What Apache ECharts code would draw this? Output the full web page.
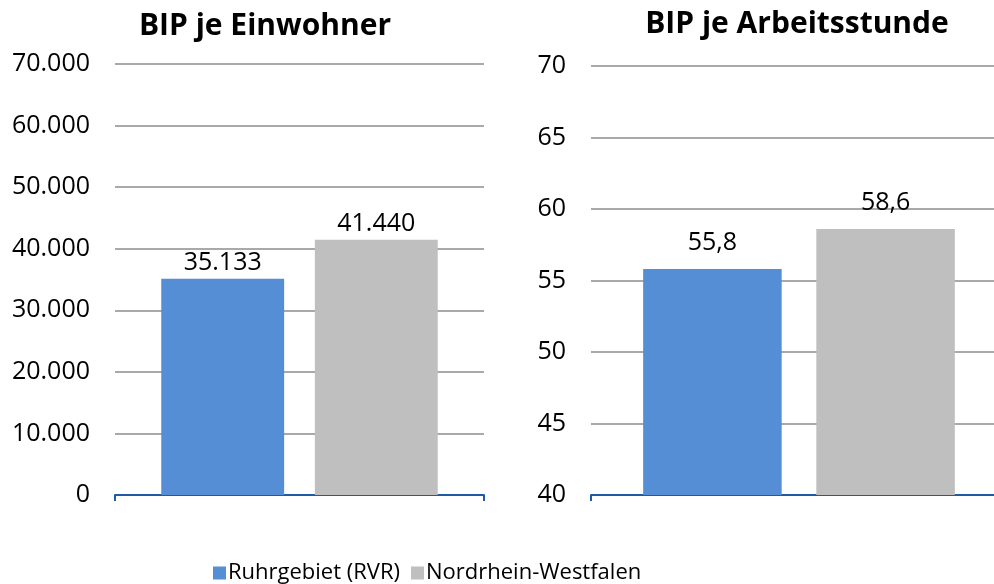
<!DOCTYPE html>
<html><head><meta charset="utf-8">
<script src="https://cdn.jsdelivr.net/npm/echarts@6/dist/echarts.min.js"></script>
<style>html,body{margin:0;padding:0;background:#fff}#c{width:994px;height:584px}</style>
</head><body><div id="c"></div>
<script>
const seriesNames = ["Ruhrgebiet (RVR)", "Nordrhein-Westfalen"];
const titles = ["BIP je Einwohner", "BIP je Arbeitsstunde"];
const bipEinwohner = [35133, 41440];
const bipArbeitsstunde = [55.8, 58.6];
const colors = ["#558ED5", "#BFBFBF"];
const FONT = "Open Sans";

const fmtThousands = v => String(Math.round(v)).replace(/\B(?=(\d{3})+(?!\d))/g, ".");
const fmtDecimal = v => v.toFixed(1).replace(".", ",");

const chart = echarts.init(document.getElementById('c'));
const grids = [
  {left: 115, width: 369, top: 64, bottom: 89, outerBoundsMode: 'none'},
  {left: 591, width: 416, top: 66, bottom: 89, outerBoundsMode: 'none'}
];
const labelDist = [3, 14];
const axisLabel = {color: "#000", fontSize: 25, fontFamily: FONT, margin: 25};
const series = [];
[bipEinwohner, bipArbeitsstunde].forEach((vals, gi) => {
  seriesNames.forEach((name, si) => {
    series.push({
      type: 'bar', name, xAxisIndex: gi, yAxisIndex: gi,
      data: [vals[si]], barWidth: '33.3%', barGap: '25%',
      itemStyle: {color: colors[si]},
      label: {show: true, position: 'top', distance: labelDist[gi], color: "#000", fontSize: 25, fontFamily: FONT,
        formatter: p => gi === 0 ? fmtThousands(p.value) : fmtDecimal(p.value)},
      animation: false
    });
  });
});
const legendText = {fontSize: 22, fontFamily: FONT, color: '#000', padding: [0,0,0,-3]};
chart.setOption({
  animation: false,
  title: [
    {text: titles[0], left: 260, top: 6, textAlign: 'center', textStyle: {fontSize: 30, fontWeight: 'bold', fontFamily: FONT, color: '#000'}},
    {text: titles[1], left: 792, top: 4, textAlign: 'center', textStyle: {fontSize: 30, fontWeight: 'bold', fontFamily: FONT, color: '#000'}}
  ],
  legend: [
    {data: [seriesNames[0]], top: 557, left: 208, itemWidth: 13, itemHeight: 13, icon: 'rect', textStyle: legendText},
    {data: [seriesNames[1]], top: 557, left: 406, itemWidth: 13, itemHeight: 13, icon: 'rect', textStyle: legendText}
  ],
  grid: grids,
  xAxis: grids.map((g, i) => ({
    type: 'category', gridIndex: i, data: [''],
    axisLine: {lineStyle: {color: '#1F5AA6', width: 2}},
    axisTick: {show: true, alignWithLabel: false, length: 6, lineStyle: {color: '#1F5AA6', width: 2}},
    axisLabel: {show: false}
  })),
  yAxis: [
    {type: 'value', gridIndex: 0, min: 0, max: 70000, interval: 10000,
     axisLabel: Object.assign({}, axisLabel, {formatter: fmtThousands}),
     splitLine: {lineStyle: {color: '#8C8C8C', width: 1.5}}, axisLine: {show: false}, axisTick: {show: false}},
    {type: 'value', gridIndex: 1, min: 40, max: 70, interval: 5,
     axisLabel: Object.assign({}, axisLabel, {formatter: v => String(v)}),
     splitLine: {lineStyle: {color: '#8C8C8C', width: 1.5}}, axisLine: {show: false}, axisTick: {show: false}}
  ],
  series
});
</script></body></html>
